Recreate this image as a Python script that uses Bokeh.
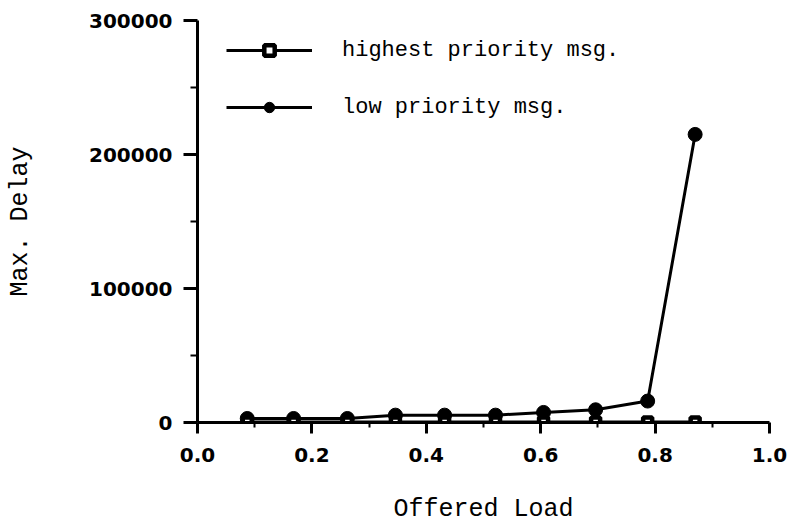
from bokeh.plotting import figure
from bokeh.models import Range1d, Legend, LegendItem, FixedTicker, PrintfTickFormatter
from bokeh.embed import file_html
from bokeh.resources import INLINE

# Data
load = [0.087, 0.168, 0.262, 0.346, 0.432, 0.521, 0.605, 0.696, 0.787, 0.870]
high_delay = [300, 300, 300, 300, 300, 300, 300, 300, 300, 300]
low_delay = [3000, 3000, 3000, 5500, 5500, 5500, 7500, 9500, 16000, 215000]

x_ticks = [0.0, 0.2, 0.4, 0.6, 0.8, 1.0]
x_minor = [0.1, 0.3, 0.5, 0.7, 0.9]
y_ticks = [0, 100000, 200000, 300000]
y_minor = [50000, 150000, 250000]

p = figure(width=798, height=527, output_backend="svg", toolbar_location=None,
           x_range=Range1d(0, 1.0), y_range=Range1d(0, 300000),
           min_border_left=197, min_border_right=29, min_border_top=20, min_border_bottom=105)
p.grid.visible = False
p.outline_line_color = None
p.background_fill_color = "white"

tick_font = "DejaVu Sans"
for ax in (p.xaxis[0], p.yaxis[0]):
    ax.axis_line_width = 3
    ax.axis_line_color = "black"
    ax.major_tick_line_width = 3
    ax.minor_tick_line_width = 2
    ax.major_tick_in = 0
    ax.minor_tick_in = 0
    ax.major_label_text_font = tick_font
    ax.major_label_text_font_style = "bold"
    ax.major_label_text_font_size = "20px"
    ax.major_label_text_color = "black"
    ax.axis_label_text_font = "Liberation Mono"
    ax.axis_label_text_font_style = "normal"
    ax.axis_label_text_font_size = "25px"
    ax.axis_label_text_color = "black"

p.xaxis.ticker = FixedTicker(ticks=x_ticks, minor_ticks=x_minor)
p.xaxis.formatter = PrintfTickFormatter(format="%.1f")
p.xaxis.major_tick_out = 11
p.xaxis.minor_tick_out = 5
p.xaxis.major_label_standoff = 14
p.xaxis.axis_label = "Offered Load"
p.xaxis.axis_label_standoff = 30

p.yaxis.ticker = FixedTicker(ticks=y_ticks, minor_ticks=y_minor)
p.yaxis.formatter = PrintfTickFormatter(format="%d")
p.yaxis.major_tick_out = 14
p.yaxis.minor_tick_out = 7
p.yaxis.major_label_standoff = 11
p.yaxis.major_label_orientation = "horizontal"
p.yaxis.axis_label = "Max. Delay"
p.yaxis.axis_label_standoff = 51

ll = p.line(load, low_delay, line_color="black", line_width=3)
ls = p.scatter(load, low_delay, marker="circle", size=14, fill_color="black", line_color="black")
hl = p.line(load, high_delay, line_color="black", line_width=3)
hs = p.scatter(load, high_delay, marker="square", size=9, fill_color="white",
               line_color="black", line_width=4.5)

legend = Legend(items=[LegendItem(label="highest priority msg.", renderers=[hl, hs]),
                       LegendItem(label="low priority msg.", renderers=[ll, ls])],
                location=(29, 302))
legend.glyph_width = 86
legend.glyph_height = 26
legend.label_height = 26
legend.label_standoff = 30
legend.spacing = 31
legend.padding = 0
legend.margin = 0
legend.border_line_color = None
legend.background_fill_alpha = 0
legend.label_text_font = "Liberation Mono"
legend.label_text_font_size = "22px"
legend.label_text_color = "black"
p.add_layout(legend)

open("out.html", "w").write(file_html(p, INLINE))
